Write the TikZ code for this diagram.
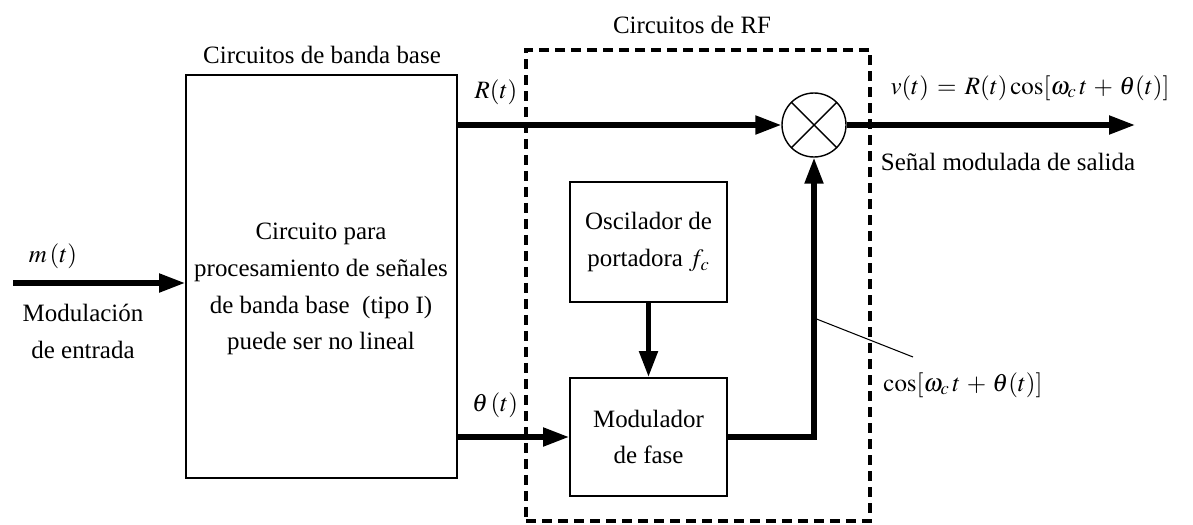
\documentclass[tikz,border=0pt]{standalone}
\usepackage{mathptmx}
\usepackage{fontspec}
\setmainfont{Liberation Serif}
\usepackage{tikz}
\usetikzlibrary{arrows.meta,positioning}

\tikzset{
  blk/.style={draw, line width=1.1pt, align=center, inner sep=2pt},
  sig/.style={->, line width=2.9pt},
  rfzone/.style={draw, line width=2pt, dash pattern=on 0.2cm off 0.12cm},
}

\begin{document}
\begin{tikzpicture}[x=0.02cm, y=-0.02cm, >={Triangle[length=0.52cm, width=0.36cm]},
    font=\fontsize{14.2}{21}\selectfont]
  \useasboundingbox (0,0) rectangle (1193,524);

  % Baseband block
  \node[blk, minimum width=5.42cm, minimum height=8.06cm] (bb) at (321.5,276.5) {};
  \node[align=center] (bbtxt) at (321,289) {Circuito para\\procesamiento de señales\\de banda base\ \ (tipo I)\\puede ser no lineal};
  \node (bbname) at (322,55) {Circuitos de banda base};

  % RF part
  \node[rfzone, minimum width=6.88cm, minimum height=9.42cm] (rf) at (698,285.5) {};
  \node (rfname) at (692,25) {Circuitos de RF};
  \node[blk, minimum width=3.14cm, minimum height=2.4cm] (osc) at (648.5,242) {Oscilador de\\portadora $f_c$};
  \node[blk, minimum width=3.14cm, minimum height=2.36cm] (mod) at (648.5,437) {Modulador\\de fase};
  \node[draw, circle, line width=0.8pt, minimum size=1.28cm] (mix) at (814,125) {};
  \draw[line width=0.8pt] (mix.north west) -- (mix.south east) (mix.north east) -- (mix.south west);

  % Signals
  \coordinate (min) at (13,283);
  \coordinate (vout) at (1135,125);
  \draw[sig] (min) -- (min -| bb.west);
  \draw[sig] (bb.east |- mix.west) -- (mix.west);
  \draw[sig] (bb.east |- mod.west) -- (mod.west);
  \draw[sig] (osc) -- (mod);
  \draw[sig] (mod.east) -| (mix.south);
  \draw[sig] (mix.east) -- (vout);

  % Labels
  \node (mlbl) at (53,256) {$m\,(t)$};
  \node[align=center] (minname) at (83,331) {Modulación\\de entrada};
  \node (rlbl) at (496,92) {$R(t)$};
  \node (thlbl) at (495,405) {$\theta\,(t)$};
  \node (vlbl) at (1030,88) {$v(t) \,=\, R(t)\cos[\omega_c\, t \,+\, \theta(t)]$};
  \node (voutname) at (1008,162) {Señal modulada de salida};
  \node (coslbl) at (963,385) {$\cos[\omega_c\, t \,+\, \theta(t)]$};
  \coordinate (tap) at (814,318);
  \coordinate (lead) at (913,357);
  \draw[line width=0.6pt] (tap) -- (lead);
\end{tikzpicture}
\end{document}
